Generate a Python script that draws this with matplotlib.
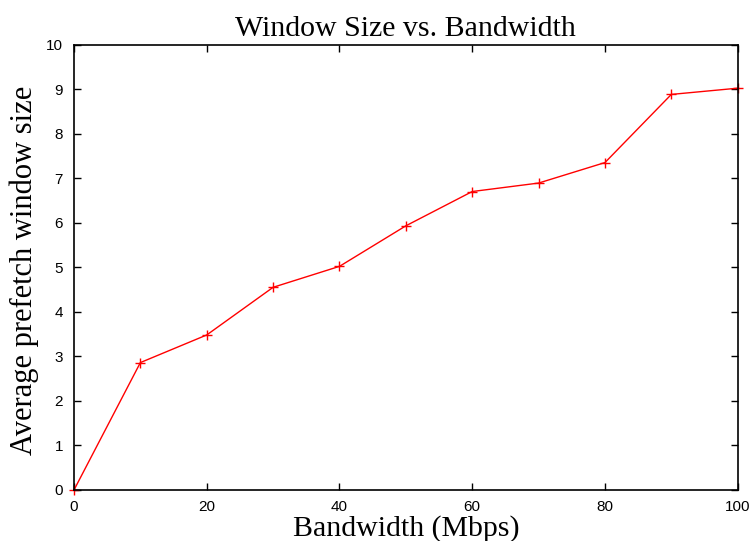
import matplotlib
matplotlib.use('Agg')
import matplotlib.pyplot as plt

# Bandwidth (Mbps) vs average prefetch window size
bandwidth = [0, 10, 20, 30, 40, 50, 60, 70, 80, 90, 100]
window_size = [0.0, 2.86, 3.48, 4.55, 5.02, 5.93, 6.70, 6.89, 7.35, 8.88, 9.02]

x_ticks = [0, 20, 40, 60, 80, 100]
y_ticks = list(range(0, 11))

serif = ['Liberation Serif', 'DejaVu Serif']
sans = ['Liberation Sans', 'DejaVu Sans']

fig = plt.figure(figsize=(7.52, 5.41), dpi=100)
ax = fig.add_axes([0.0984, 0.0943, 0.8826, 0.8234])

ax.plot(bandwidth, window_size, color='red', linewidth=1.0,
        marker='+', markersize=7, markeredgewidth=1.0, clip_on=False)

ax.set_xlim(0, 100)
ax.set_ylim(0, 10)
ax.set_xticks(x_ticks)
ax.set_yticks(y_ticks)
ax.tick_params(direction='in', length=5, width=1.0, top=True, right=True,
               labelsize=11)
ax.tick_params(axis='x', pad=7)
ax.tick_params(axis='y', pad=8)
for lab in ax.get_xticklabels() + ax.get_yticklabels():
    lab.set_family(sans)
for s in ax.spines.values():
    s.set_linewidth(1.2)

ax.set_title('Window Size vs. Bandwidth', family=serif, fontsize=21.5, pad=6)
ax.set_xlabel('Bandwidth (Mbps)', family=serif, fontsize=21.5, labelpad=1)
ax.set_ylabel('Average prefetch window size', family=serif, fontsize=22)
ax.yaxis.set_label_coords(-0.053, 0.494)

fig.savefig('out.png', dpi=100)
